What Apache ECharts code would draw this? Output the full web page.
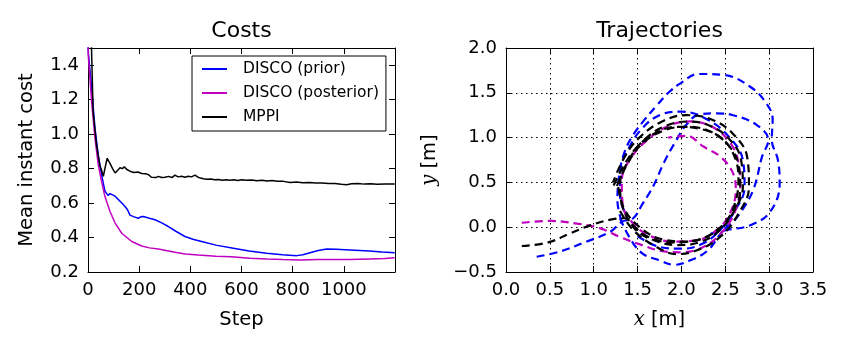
<!DOCTYPE html>
<html>
<head>
<meta charset="utf-8">
<script src="https://cdn.jsdelivr.net/npm/echarts@6/dist/echarts.min.js"></script>
<style>
  html, body { margin: 0; padding: 0; background: #fff; }
  #chart { width: 850px; height: 354px; }
</style>
</head>
<body>
<div id="chart"></div>
<script>
// costs, [step, mean instant cost]
const priorCost = [[0,1.6],[1,1.48],[14,1.27],[27,1.04],[40,0.88],[53,0.765],[62,0.70],[66,0.67],[72,0.66],[78,0.645],[86,0.655],[93,0.658],[106,0.64],[119,0.62],[132,0.60],[145,0.58],[155,0.56],[164,0.53],[180,0.52],[197,0.512],[206,0.52],[216,0.522],[240,0.512],[262,0.503],[288,0.485],[314,0.464],[345,0.435],[379,0.406],[410,0.39],[444,0.377],[500,0.356],[568,0.338],[630,0.322],[698,0.309],[760,0.30],[816,0.295],[840,0.30],[868,0.312],[900,0.325],[933,0.334],[970,0.332],[1024,0.328],[1100,0.322],[1150,0.316],[1199,0.312]]
const posteriorCost = [[0,1.6],[1,1.46],[14,1.19],[27,0.98],[40,0.823],[53,0.726],[66,0.639],[86,0.551],[106,0.484],[132,0.425],[171,0.377],[210,0.351],[240,0.34],[275,0.334],[340,0.315],[380,0.305],[431,0.299],[500,0.292],[560,0.288],[633,0.28],[700,0.275],[760,0.272],[829,0.27],[900,0.272],[960,0.273],[1024,0.272],[1100,0.276],[1160,0.279],[1199,0.283]]
const mppiCost = [[0,2.6],[12,1.6],[20,1.13],[33,0.94],[46,0.82],[53,0.79],[60,0.755],[66,0.80],[75,0.86],[86,0.83],[96,0.80],[106,0.775],[116,0.79],[125,0.805],[134,0.80],[142,0.81],[152,0.795],[164,0.785],[180,0.778],[195,0.78],[210,0.772],[225,0.77],[236,0.765],[248,0.75],[255,0.742],[265,0.748],[275,0.755],[288,0.748],[301,0.75],[315,0.755],[328,0.748],[340,0.762],[352,0.752],[366,0.756],[379,0.75],[392,0.756],[405,0.752],[418,0.762],[430,0.75],[440,0.745],[451,0.741],[465,0.738],[480,0.74],[495,0.735],[510,0.737],[525,0.733],[540,0.736],[555,0.732],[570,0.735],[585,0.731],[600,0.735],[620,0.732],[640,0.734],[660,0.73],[680,0.732],[700,0.728],[720,0.731],[740,0.727],[764,0.726],[790,0.72],[815,0.722],[840,0.718],[865,0.72],[890,0.716],[915,0.717],[940,0.713],[965,0.714],[990,0.709],[1011,0.707],[1030,0.712],[1055,0.713],[1080,0.71],[1105,0.712],[1130,0.709],[1160,0.71],[1199,0.71]]

// trajectories, [x, y] in metres
const blueA = [[0.35,-0.33],[0.62,-0.27],[0.92,-0.16],[1.19,-0.05],[1.32,0.06],[1.45,0.1],[1.55,0.25],[1.68,0.46],[1.8,0.72],[1.93,0.95],[2.06,1.15],[2.21,1.26],[2.4,1.27],[2.59,1.25],[2.86,1.14],[2.99,0.97],[2.92,0.79],[2.82,0.42],[2.67,0.16],[2.52,0.0],[2.4,-0.04]]
const blueB = [[1.32,0.06],[1.27,0.3],[1.3,0.64],[1.36,0.86],[1.45,1.03],[1.58,1.2],[1.72,1.36],[1.85,1.5],[1.98,1.6],[2.2,1.71],[2.48,1.7],[2.78,1.57],[2.97,1.38],[3.04,1.2],[3.03,0.98],[3.1,0.75],[3.12,0.49],[3.01,0.17],[2.78,0.02],[2.52,-0.03],[2.3,-0.08]]
const blueC = [[1.3,0.1],[1.4,-0.1],[1.55,-0.29],[1.75,-0.37],[1.92,-0.42],[2.1,-0.37],[2.3,-0.26],[2.44,-0.08],[2.55,0.05]]
const blueD = [[1.5,-0.1],[1.75,-0.22],[2.0,-0.24],[2.25,-0.18],[2.45,-0.02],[2.62,0.2],[2.72,0.45],[2.7,0.75],[2.55,1.0],[2.3,1.2],[2.0,1.29],[1.75,1.25],[1.55,1.1],[1.4,0.88],[1.3,0.6],[1.3,0.35],[1.38,0.12]]
const magentaA = [[0.18,0.05],[0.5,0.07],[0.81,0.04],[1.07,-0.01],[1.3,-0.11],[1.55,-0.2],[1.8,-0.27],[2.0,-0.28],[2.25,-0.22],[2.45,-0.07],[2.6,0.15],[2.67,0.45],[2.65,0.72],[2.55,0.95],[2.35,1.12],[2.1,1.18],[1.85,1.13],[1.62,0.98],[1.43,0.78],[1.32,0.52],[1.33,0.25],[1.45,0.04],[1.65,-0.1],[1.9,-0.16],[2.15,-0.15],[2.38,-0.05],[2.55,0.15],[2.62,0.42],[2.58,0.62],[2.44,0.79],[2.25,0.9],[2.06,1.02],[1.85,1.0]]
const blackA = [[0.18,-0.21],[0.48,-0.17],[0.73,-0.07],[0.96,0.02],[1.22,0.09],[1.35,0.1],[1.5,-0.05],[1.7,-0.15],[1.95,-0.2],[2.2,-0.17],[2.42,-0.05],[2.6,0.18],[2.7,0.45],[2.68,0.75],[2.55,0.98],[2.33,1.13],[2.08,1.18],[1.82,1.13],[1.58,0.98],[1.4,0.75],[1.3,0.48],[1.33,0.22],[1.45,0.02],[1.65,-0.12],[1.9,-0.17],[2.15,-0.15],[2.38,-0.05],[2.57,0.15],[2.67,0.42],[2.65,0.7],[2.52,0.93],[2.3,1.08],[2.05,1.12],[1.8,1.08],[1.55,0.93],[1.38,0.7],[1.26,0.45]]
const blackB = [[1.3,0.18],[1.45,-0.03],[1.68,-0.2],[1.95,-0.3],[2.2,-0.25],[2.45,-0.1],[2.65,0.15],[2.77,0.45],[2.75,0.78],[2.6,1.03],[2.35,1.2],[2.05,1.25],[1.78,1.18],[1.52,1.0],[1.35,0.78],[1.22,0.5]]
const blackC = [[1.28,0.45],[1.35,0.2],[1.55,-0.02],[1.8,-0.14],[2.05,-0.16],[2.3,-0.1],[2.5,0.05],[2.62,0.3],[2.65,0.55],[2.6,0.8],[2.45,1.0],[2.2,1.1],[1.95,1.12],[1.7,1.05],[1.5,0.9],[1.35,0.7],[1.22,0.45]]

const FONT = 'DejaVu Sans'
const BLUE = '#0000ff'
const MAGENTA = '#bf00bf'

let chart = echarts.init(document.getElementById('chart'))

const frameAxis = (extra) => Object.assign({
    type: 'value',
    axisLine: { show: true, onZero: false, lineStyle: { color: '#000', width: 1 } },
    axisTick: { show: true, inside: true, length: 6, lineStyle: { color: '#000' } },
    splitLine: { show: false },
    axisLabel: { show: false }
}, extra)

const tickLabel = { show: true, color: '#000', fontFamily: FONT, fontSize: 18, margin: 9 }
const dotted = { show: true, lineStyle: { color: '#000', type: [1.5, 3.5], width: 1 } }
const oneDec = v => (v < 0 ? '\u2212' : '') + Math.abs(v).toFixed(1)

const trajSeries = (data, color) => ({
    type: 'line', xAxisIndex: 2, yAxisIndex: 2, data: data,
    showSymbol: false, smooth: 0.4,
    lineStyle: { color: color, width: 2.2, type: [8, 5] }
})

let option = {
    animation: false,
    title: [
        { text: 'Costs', left: 241.5, top: 20, textAlign: 'center', padding: 0,
          textStyle: { fontFamily: FONT, fontSize: 22, fontWeight: 'normal', color: '#000' } },
        { text: 'Trajectories', left: 659.5, top: 20, textAlign: 'center', padding: 0,
          textStyle: { fontFamily: FONT, fontSize: 22, fontWeight: 'normal', color: '#000' } }
    ],
    legend: {
        data: ['DISCO (prior)', 'DISCO (posterior)', 'MPPI'],
        orient: 'vertical', left: 192, top: 56,
        padding: [4, 7, 5, 10],
        itemGap: 6, itemWidth: 25, itemHeight: 2, icon: 'rect',
        borderColor: '#000', borderWidth: 1, borderRadius: 0,
        backgroundColor: '#fff',
        textStyle: { fontFamily: FONT, fontSize: 15.5, color: '#000', lineHeight: 18, padding: [0, 0, 0, 11] }
    },
    grid: [
        { left: 88, top: 48, width: 307, height: 224 },
        { left: 506, top: 48, width: 307, height: 224 }
    ],
    xAxis: [
        frameAxis({ gridIndex: 0, min: 0, max: 1200, interval: 200,
            axisLabel: Object.assign({}, tickLabel, { showMaxLabel: false, formatter: v => String(v) }),
            name: 'Step', nameLocation: 'middle', nameGap: 38,
            nameTextStyle: { fontFamily: FONT, fontSize: 19.5, color: '#000' } }),
        frameAxis({ gridIndex: 0, position: 'top', min: 0, max: 1200, interval: 200 }),
        frameAxis({ gridIndex: 1, min: 0, max: 3.5, interval: 0.5,
            axisLabel: Object.assign({}, tickLabel, { formatter: oneDec }),
            splitLine: dotted,
            name: '{i|x} [m]', nameLocation: 'middle', nameGap: 38,
            nameTextStyle: { fontFamily: FONT, fontSize: 19.5, color: '#000',
                rich: { i: { fontFamily: 'DejaVu Serif', fontStyle: 'italic', fontSize: 19.5, color: '#000' } } } }),
        frameAxis({ gridIndex: 1, position: 'top', min: 0, max: 3.5, interval: 0.5 })
    ],
    yAxis: [
        frameAxis({ gridIndex: 0, min: 0.2, max: 1.5, interval: 0.2,
            axisLabel: Object.assign({}, tickLabel, { showMaxLabel: false, formatter: v => v.toFixed(1) }),
            name: 'Mean instant cost', nameLocation: 'middle', nameGap: 51, nameRotate: 90,
            nameTextStyle: { fontFamily: FONT, fontSize: 19.5, color: '#000' } }),
        frameAxis({ gridIndex: 0, position: 'right', min: 0.2, max: 1.5, interval: 0.2 }),
        frameAxis({ gridIndex: 1, min: -0.5, max: 2.0, interval: 0.5,
            axisLabel: Object.assign({}, tickLabel, { formatter: oneDec }),
            splitLine: dotted,
            name: '{i|y} [m]', nameLocation: 'middle', nameGap: 66, nameRotate: 90,
            nameTextStyle: { fontFamily: FONT, fontSize: 19.5, color: '#000',
                rich: { i: { fontFamily: 'DejaVu Serif', fontStyle: 'italic', fontSize: 19.5, color: '#000' } } } }),
        frameAxis({ gridIndex: 1, position: 'right', min: -0.5, max: 2.0, interval: 0.5 })
    ],
    series: [
        { name: 'DISCO (prior)', type: 'line', xAxisIndex: 0, yAxisIndex: 0, data: priorCost,
          showSymbol: false, lineStyle: { color: BLUE, width: 1.5 }, itemStyle: { color: BLUE } },
        { name: 'DISCO (posterior)', type: 'line', xAxisIndex: 0, yAxisIndex: 0, data: posteriorCost,
          showSymbol: false, lineStyle: { color: MAGENTA, width: 1.5 }, itemStyle: { color: MAGENTA } },
        { name: 'MPPI', type: 'line', xAxisIndex: 0, yAxisIndex: 0, data: mppiCost,
          showSymbol: false, lineStyle: { color: '#000', width: 1.5 }, itemStyle: { color: '#000' } },
        trajSeries(blueA, BLUE),
        trajSeries(blueB, BLUE),
        trajSeries(blueC, BLUE),
        trajSeries(blueD, BLUE),
        trajSeries(magentaA, MAGENTA),
        trajSeries(blackA, '#000'),
        trajSeries(blackB, '#000'),
        trajSeries(blackC, '#000')
    ]
}

chart.setOption(option)
</script>
</body>
</html>
